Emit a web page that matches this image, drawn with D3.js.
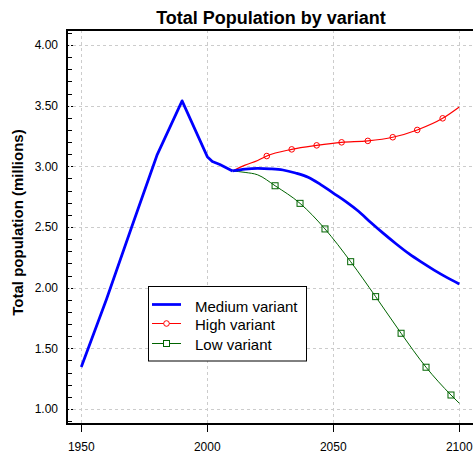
<!DOCTYPE html>
<html>
<head>
<meta charset="utf-8">
<script src="https://cdn.jsdelivr.net/npm/d3@7"></script>
<style>
    html, body { margin: 0; padding: 0; background: #fff; }
    #chart { width: 473px; height: 453px; overflow: hidden; }
    text { font-family: "Liberation Sans", Arial, sans-serif; }
</style>
</head>
<body>
<div id="chart"></div>
<script>
// historical estimates + medium projection
const mediumYears  = [1950, 1960, 1970, 1980, 1990, 2000, 2002, 2005, 2010, 2015, 2020, 2025, 2030, 2035, 2040, 2045, 2050, 2055, 2060, 2065, 2070, 2075, 2080, 2085, 2090, 2095, 2100];
const mediumValues = [1.346, 1.905, 2.50, 3.09, 3.54, 3.08, 3.04, 3.015, 2.962, 2.978, 2.984, 2.98, 2.97, 2.945, 2.91, 2.85, 2.78, 2.71, 2.63, 2.535, 2.445, 2.36, 2.28, 2.21, 2.145, 2.085, 2.03];

// high variant
const highYears  = [2010, 2015, 2020, 2023.6, 2033.5, 2043.4, 2053.3, 2063.7, 2073.6, 2083.3, 2093.4, 2100];
const highValues = [2.962, 3.01, 3.048, 3.085, 3.14, 3.173, 3.198, 3.21, 3.24, 3.30, 3.396, 3.49];

// low variant
const lowYears  = [2010, 2015, 2020, 2026.9, 2036.8, 2046.7, 2056.9, 2066.8, 2076.9, 2086.8, 2096.7, 2100];
const lowValues = [2.962, 2.95, 2.93, 2.84, 2.695, 2.484, 2.214, 1.926, 1.624, 1.344, 1.115, 1.047];

const xTicks = [1950, 2000, 2050, 2100];
const yTicks = [1.00, 1.50, 2.00, 2.50, 3.00, 3.50, 4.00];
const legendLabels = ["Medium variant", "High variant", "Low variant"];

const W = 473, H = 453;
const mLeft = 67, mRight = 475, mTop = 30, mBottom = 424;

const svg = d3.select("#chart")
              .append("svg")
              .attr("width", W)
              .attr("height", H);

const x = d3.scaleLinear().domain([1944.33, 2106.23]).range([mLeft, mRight]);
const y = d3.scaleLinear().domain([0.876, 4.124]).range([mBottom, mTop]);

// grid
const grid = svg.append("g")
                .attr("stroke", "#cccccc")
                .attr("stroke-width", 1)
                .attr("stroke-dasharray", "3,3")
                .attr("shape-rendering", "crispEdges");

grid.selectAll("line.gy")
    .data(yTicks)
    .enter()
    .append("line")
    .attr("class", "gy")
    .attr("x1", mLeft)
    .attr("x2", mRight)
    .attr("y1", d => Math.round(y(d)) + 0.5)
    .attr("y2", d => Math.round(y(d)) + 0.5);

grid.selectAll("line.gx")
    .data(xTicks)
    .enter()
    .append("line")
    .attr("class", "gx")
    .attr("y1", mTop)
    .attr("y2", mBottom)
    .attr("x1", d => Math.round(x(d)) + 0.5)
    .attr("x2", d => Math.round(x(d)) + 0.5);

// lines
const line = d3.line()
               .x(d => x(d[0]))
               .y(d => y(d[1]));

const lineSmooth = d3.line()
                     .curve(d3.curveMonotoneX)
                     .x(d => x(d[0]))
                     .y(d => y(d[1]));

const mediumData = d3.zip(mediumYears, mediumValues);
const highData = d3.zip(highYears, highValues);
const lowData = d3.zip(lowYears, lowValues);

svg.append("path")
   .datum(lowData)
   .attr("fill", "none")
   .attr("stroke", "#006400")
   .attr("stroke-width", 1)
   .attr("d", lineSmooth);

svg.append("path")
   .datum(highData)
   .attr("fill", "none")
   .attr("stroke", "#ff0000")
   .attr("stroke-width", 1.2)
   .attr("d", lineSmooth);

// medium: straight segments for the estimates, smooth for the projection
svg.append("path")
   .datum(mediumData.filter(d => d[0] <= 2010))
   .attr("fill", "none")
   .attr("stroke", "#0000ff")
   .attr("stroke-width", 2.75)
   .attr("stroke-linejoin", "round")
   .attr("d", line);

svg.append("path")
   .datum(mediumData.filter(d => d[0] >= 2010))
   .attr("fill", "none")
   .attr("stroke", "#0000ff")
   .attr("stroke-width", 2.75)
   .attr("stroke-linejoin", "round")
   .attr("d", lineSmooth);

// markers: every point except the first three and the last one
const marked = (d, i, arr) => i >= 3 && i < arr.length - 1;

svg.append("g")
   .selectAll("circle")
   .data(highData.filter(marked))
   .enter()
   .append("circle")
   .attr("cx", d => x(d[0]))
   .attr("cy", d => y(d[1]))
   .attr("r", 2.8)
   .attr("fill", "none")
   .attr("stroke", "#ff0000")
   .attr("stroke-width", 1);

svg.append("g")
   .selectAll("rect")
   .data(lowData.filter(marked))
   .enter()
   .append("rect")
   .attr("x", d => x(d[0]) - 3)
   .attr("y", d => y(d[1]) - 3)
   .attr("width", 6)
   .attr("height", 6)
   .attr("fill", "none")
   .attr("stroke", "#006400")
   .attr("stroke-width", 1);

// frame
svg.append("rect")
   .attr("x", mLeft)
   .attr("y", mTop)
   .attr("width", mRight - mLeft)
   .attr("height", mBottom - mTop)
   .attr("fill", "none")
   .attr("stroke", "#000")
   .attr("stroke-width", 2);

// y ticks: minor every 0.1, major dashed
const minor = d3.range(9, 42).map(d => d / 10).filter(d => Math.round(d * 10) % 5 !== 0);
svg.append("g")
   .selectAll("line")
   .data(minor)
   .enter()
   .append("line")
   .attr("x1", mLeft)
   .attr("x2", mLeft + 5)
   .attr("y1", d => Math.round(y(d)) + 0.5)
   .attr("y2", d => Math.round(y(d)) + 0.5)
   .attr("stroke", "#000")
   .attr("shape-rendering", "crispEdges");

svg.append("g")
   .selectAll("line")
   .data(yTicks)
   .enter()
   .append("line")
   .attr("x1", mLeft)
   .attr("x2", mLeft + 7)
   .attr("y1", d => Math.round(y(d)) + 0.5)
   .attr("y2", d => Math.round(y(d)) + 0.5)
   .attr("stroke", "#000")
   .attr("stroke-dasharray", "2,2")
   .attr("shape-rendering", "crispEdges");

svg.append("g")
   .selectAll("text")
   .data(yTicks)
   .enter()
   .append("text")
   .attr("x", 58)
   .attr("y", d => y(d))
   .attr("dy", "0.36em")
   .attr("text-anchor", "end")
   .attr("font-size", 12)
   .attr("fill", "#000")
   .text(d => d.toFixed(2));

// x ticks
svg.append("g")
   .selectAll("line")
   .data(xTicks)
   .enter()
   .append("line")
   .attr("x1", d => Math.round(x(d)) + 0.5)
   .attr("x2", d => Math.round(x(d)) + 0.5)
   .attr("y1", mBottom)
   .attr("y2", mBottom + 8)
   .attr("stroke", "#000")
   .attr("shape-rendering", "crispEdges");

svg.append("g")
   .selectAll("text")
   .data(xTicks)
   .enter()
   .append("text")
   .attr("x", d => x(d))
   .attr("y", 451)
   .attr("text-anchor", "middle")
   .attr("font-size", 12)
   .attr("fill", "#000")
   .text(d => d);

// titles
svg.append("text")
   .attr("x", (mLeft + mRight) / 2)
   .attr("y", 24)
   .attr("text-anchor", "middle")
   .attr("font-size", 18)
   .attr("font-weight", "bold")
   .text("Total Population by variant");

svg.append("text")
   .attr("transform", "translate(23,222.5) rotate(-90)")
   .attr("text-anchor", "middle")
   .attr("font-size", 15)
   .attr("font-weight", "bold")
   .text("Total population (millions)");

// legend
const legend = svg.append("g");
legend.append("rect")
      .attr("x", 148.5)
      .attr("y", 286.5)
      .attr("width", 158)
      .attr("height", 74.5)
      .attr("fill", "#fff")
      .attr("stroke", "#000")
      .attr("stroke-width", 1);

const rows = [304.5, 323.5, 343.5];
const colors = ["#0000ff", "#ff0000", "#006400"];
const widths = [2.75, 1, 1];

legendLabels.forEach((label, i) => {
    legend.append("line")
          .attr("x1", 152)
          .attr("x2", 181)
          .attr("y1", rows[i])
          .attr("y2", rows[i])
          .attr("stroke", colors[i])
          .attr("stroke-width", widths[i]);
    legend.append("text")
          .attr("x", 195)
          .attr("y", rows[i] + (i === 0 ? 7 : 6))
          .attr("font-size", 15)
          .attr("fill", "#000")
          .text(label);
});

legend.append("circle")
      .attr("cx", 166.5)
      .attr("cy", rows[1])
      .attr("r", 2.8)
      .attr("fill", "#fff")
      .attr("stroke", "#ff0000");

legend.append("rect")
      .attr("x", 163.5)
      .attr("y", rows[2] - 3)
      .attr("width", 6)
      .attr("height", 6)
      .attr("fill", "#fff")
      .attr("stroke", "#006400");
</script>
</body>
</html>
